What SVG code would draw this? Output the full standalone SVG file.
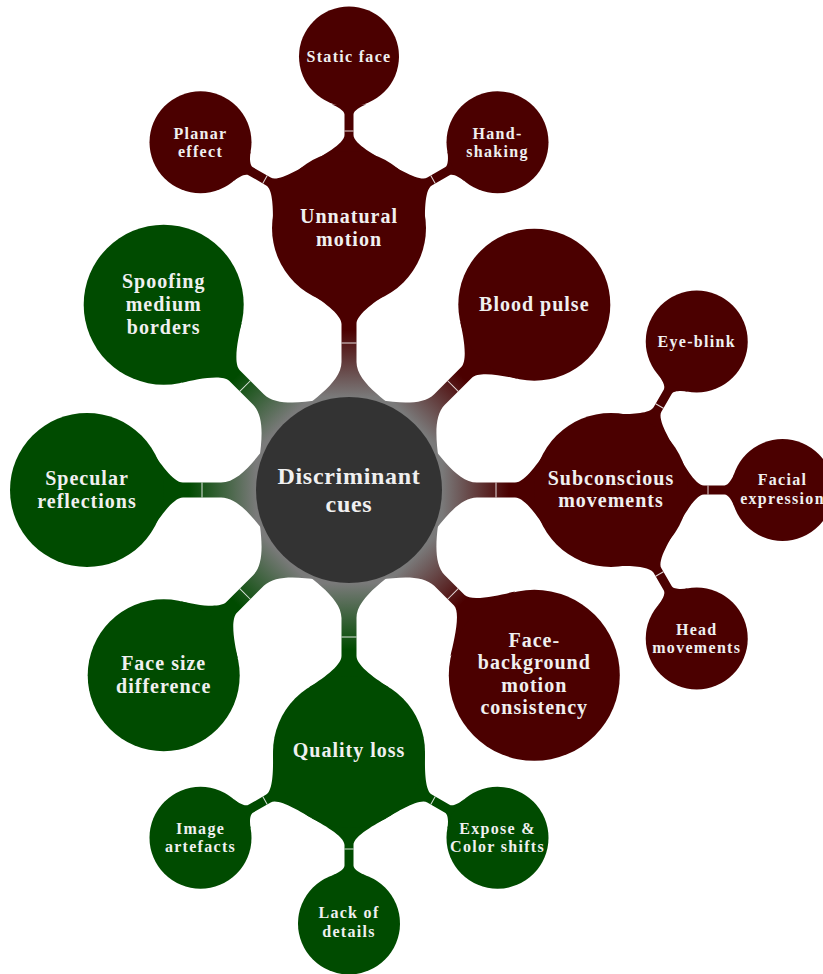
<svg xmlns="http://www.w3.org/2000/svg" width="823" height="974" viewBox="0 0 823 974">
  <style>
    text { font-family: "Liberation Serif", "Times New Roman", serif; font-weight: bold; fill: #f0f0f0; text-anchor: middle; }
    .t0 { font-size: 24px; letter-spacing: 0.7px; }
    .t1 { font-size: 20px; letter-spacing: 1px; }
    .t2 { font-size: 16px; letter-spacing: 1.3px; }
    .root { fill: #333333; }
    .red { fill: #4b0000; }
    .green { fill: #004b00; }
    .seam { stroke: #ffffff; stroke-width: 1; stroke-opacity: 0.85; }
  </style>
  <defs>
    <!-- colour switch along a first-level bar (local axis: parent centre at 0, child at x=262) -->
    <linearGradient id="gR" gradientUnits="userSpaceOnUse" x1="93" y1="0" x2="160" y2="0">
      <stop offset="0" stop-color="#7a7a7a"/>
      <stop offset="1" stop-color="#4b0000"/>
    </linearGradient>
    <linearGradient id="gG" gradientUnits="userSpaceOnUse" x1="93" y1="0" x2="160" y2="0">
      <stop offset="0" stop-color="#7a7a7a"/>
      <stop offset="1" stop-color="#004b00"/>
    </linearGradient>
    <!-- first-level bar, child radius 76 -->
    <g id="b1">
      <path d="M 71.2,-59.8 C 85.3,-43 106,-7.5 128,-7.5 L 166,-7.5 C 176,-7.5 190.1,-28.4 197.5,-40.3 L 197.5,40.3 C 190.1,28.4 176,7.5 166,7.5 L 128,7.5 C 106,7.5 85.3,43 71.2,59.8 Z"/>
      <line class="seam" x1="147" y1="-7.5" x2="147" y2="7.5"/>
    </g>
    <!-- first-level bar, child radius 80 -->
    <g id="b1b">
      <path d="M 71.2,-59.8 C 85.3,-43 106,-7.5 128,-7.5 L 162,-7.5 C 172,-7.5 186.8,-30.5 194.2,-42.4 L 194.2,42.4 C 186.8,30.5 172,7.5 162,7.5 L 128,7.5 C 106,7.5 85.3,43 71.2,59.8 Z"/>
      <line class="seam" x1="147" y1="-7.5" x2="147" y2="7.5"/>
    </g>
    <!-- first-level bar, child radius 86 -->
    <g id="b1c">
      <path d="M 71.2,-59.8 C 85.3,-43 106,-7.5 128,-7.5 L 156,-7.5 C 166,-7.5 181.7,-33.7 189.1,-45.6 L 189.1,45.6 C 181.7,33.7 166,7.5 156,7.5 L 128,7.5 C 106,7.5 85.3,43 71.2,59.8 Z"/>
      <line class="seam" x1="147" y1="-7.5" x2="147" y2="7.5"/>
    </g>
    <!-- second-level bar (parent radius 76, child radius 51, distance 171.5) -->
    <g id="b2">
      <path d="M 65.8,-38 C 71.8,-27.6 84,-4.5 93,-4.5 L 113.5,-4.5 C 117.5,-4.5 121.6,-11.8 123.6,-17.4 L 123.6,17.4 C 121.6,11.8 117.5,4.5 113.5,4.5 L 93,4.5 C 84,4.5 71.8,27.6 65.8,38 Z"/>
      <line class="seam" x1="97" y1="-4.5" x2="97" y2="4.5"/>
    </g>
  </defs>

  <g id="connectors">
    <!-- root to first level -->
    <use href="#b1" transform="translate(349,490) rotate(-90)" fill="url(#gR)"/>
    <use href="#b1" transform="translate(349,490) rotate(-45)" fill="url(#gR)"/>
    <use href="#b1" transform="translate(349,490)" fill="url(#gR)"/>
    <use href="#b1c" transform="translate(349,490) rotate(45)" fill="url(#gR)"/>
    <use href="#b1" transform="translate(349,490) rotate(90)" fill="url(#gG)"/>
    <use href="#b1" transform="translate(349,490) rotate(135)" fill="url(#gG)"/>
    <use href="#b1" transform="translate(349,490) rotate(180)" fill="url(#gG)"/>
    <use href="#b1b" transform="translate(349,490) rotate(-135)" fill="url(#gG)"/>
    <!-- Unnatural motion children -->
    <use href="#b2" transform="translate(349,228) rotate(-90)" fill="#4b0000"/>
    <use href="#b2" transform="translate(349,228) rotate(-150)" fill="#4b0000"/>
    <use href="#b2" transform="translate(349,228) rotate(-30)" fill="#4b0000"/>
    <!-- Subconscious movements children -->
    <use href="#b2" transform="translate(611,490) rotate(-60)" fill="#4b0000"/>
    <use href="#b2" transform="translate(611,490)" fill="#4b0000"/>
    <use href="#b2" transform="translate(611,490) rotate(60)" fill="#4b0000"/>
    <!-- Quality loss children -->
    <use href="#b2" transform="translate(349,752) rotate(150)" fill="#004b00"/>
    <use href="#b2" transform="translate(349,752) rotate(90)" fill="#004b00"/>
    <use href="#b2" transform="translate(349,752) rotate(30)" fill="#004b00"/>
  </g>

  <g id="root">
    <circle class="root" cx="349" cy="490" r="93"/>
    <text class="t0" x="349" y="483.5">Discriminant</text>
    <text class="t0" x="349" y="511.5">cues</text>
  </g>

  <g id="unnatural-motion">
    <circle class="red" cx="349" cy="228" r="77"/>
    <text class="t1" x="349" y="222.5">Unnatural</text>
    <text class="t1" x="349" y="245.5">motion</text>
  </g>
  <g id="static-face">
    <circle class="red" cx="349" cy="56.5" r="50"/>
    <text class="t2" x="349" y="62">Static face</text>
  </g>
  <g id="planar-effect">
    <circle class="red" cx="200.5" cy="142.25" r="51"/>
    <text class="t2" x="200.5" y="138.5">Planar</text>
    <text class="t2" x="200.5" y="157">effect</text>
  </g>
  <g id="hand-shaking">
    <circle class="red" cx="497.5" cy="142.25" r="51"/>
    <text class="t2" x="497.5" y="138.5">Hand-</text>
    <text class="t2" x="497.5" y="157">shaking</text>
  </g>

  <g id="blood-pulse">
    <circle class="red" cx="534.3" cy="304.7" r="76"/>
    <text class="t1" x="534.3" y="311">Blood pulse</text>
  </g>

  <g id="subconscious-movements">
    <circle class="red" cx="611" cy="490" r="77"/>
    <text class="t1" x="611" y="485">Subconscious</text>
    <text class="t1" x="611" y="507">movements</text>
  </g>
  <g id="eye-blink">
    <circle class="red" cx="696.75" cy="341.5" r="51"/>
    <text class="t2" x="696.75" y="346.5">Eye-blink</text>
  </g>
  <g id="facial-expression">
    <circle class="red" cx="782.5" cy="490" r="51"/>
    <text class="t2" x="782.5" y="485">Facial</text>
    <text class="t2" x="782.5" y="503.5">expression</text>
  </g>
  <g id="head-movements">
    <circle class="red" cx="696.75" cy="638.5" r="51"/>
    <text class="t2" x="696.75" y="634.5">Head</text>
    <text class="t2" x="696.75" y="653">movements</text>
  </g>

  <g id="face-background-motion-consistency">
    <circle class="red" cx="534.3" cy="675.3" r="85.5"/>
    <text class="t1" x="534.3" y="646.5">Face-</text>
    <text class="t1" x="534.3" y="669">background</text>
    <text class="t1" x="534.3" y="691.5">motion</text>
    <text class="t1" x="534.3" y="714">consistency</text>
  </g>

  <g id="quality-loss">
    <circle class="green" cx="349" cy="752" r="76"/>
    <text class="t1" x="349" y="757">Quality loss</text>
  </g>
  <g id="image-artefacts">
    <circle class="green" cx="200.5" cy="837.75" r="51"/>
    <text class="t2" x="200.5" y="833.5">Image</text>
    <text class="t2" x="200.5" y="852">artefacts</text>
  </g>
  <g id="lack-of-details">
    <circle class="green" cx="349" cy="923.5" r="51"/>
    <text class="t2" x="349" y="918">Lack of</text>
    <text class="t2" x="349" y="937">details</text>
  </g>
  <g id="expose-color-shifts">
    <circle class="green" cx="497.5" cy="837.75" r="51"/>
    <text class="t2" x="497.5" y="833.5">Expose &amp;</text>
    <text class="t2" x="497.5" y="852">Color shifts</text>
  </g>

  <g id="face-size-difference">
    <circle class="green" cx="163.7" cy="675.3" r="76"/>
    <text class="t1" x="163.7" y="669.5">Face size</text>
    <text class="t1" x="163.7" y="692.5">difference</text>
  </g>

  <g id="specular-reflections">
    <circle class="green" cx="87" cy="490" r="77"/>
    <text class="t1" x="87" y="485">Specular</text>
    <text class="t1" x="87" y="508">reflections</text>
  </g>

  <g id="spoofing-medium-borders">
    <circle class="green" cx="163.7" cy="304.7" r="80"/>
    <text class="t1" x="163.7" y="288">Spoofing</text>
    <text class="t1" x="163.7" y="311">medium</text>
    <text class="t1" x="163.7" y="334">borders</text>
  </g>
</svg>
